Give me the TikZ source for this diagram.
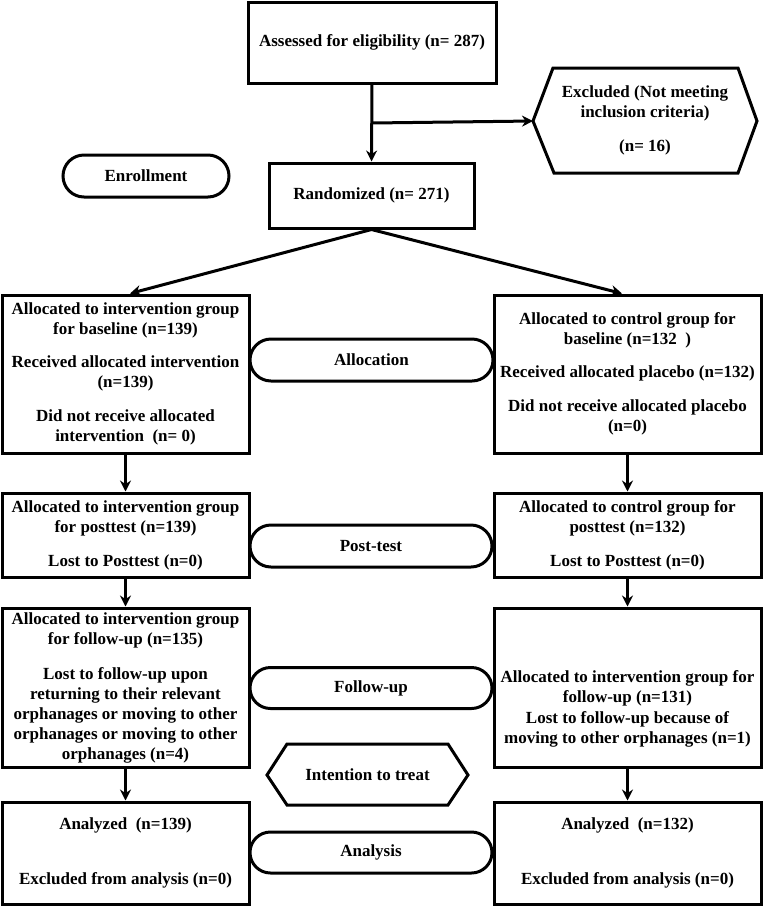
\documentclass[tikz,border=0pt]{standalone}
\usepackage{fontspec}
\setmainfont{Liberation Serif}
\usetikzlibrary{arrows.meta,shapes.misc,calc}
\begin{document}
\begin{tikzpicture}[x=1pt,y=-1pt,
  every node/.style={font=\fontsize{17}{20}\selectfont\bfseries, align=center, inner sep=0pt},
  box/.style={draw, line width=3pt, rectangle},
  stad/.style={draw, line width=3pt, rounded rectangle},
  hexa/.style={draw, line width=3pt, line join=miter},
  arr/.style={line width=3pt, -{Stealth[length=11pt,width=11pt]}},
  plain/.style={line width=3pt}]
\fill[white] (0,0) rectangle (763,906);
\useasboundingbox (0,0) rectangle (763,906);

% enrollment
\node[box, minimum width=248pt, minimum height=81pt] (ass) at (372,42.5) {Assessed for eligibility (n= 287)};
\node[box, minimum width=205pt, minimum height=65pt] (rand) at (371.5,195.5) {Randomized (n= 271)};
\node[stad, minimum width=166pt, minimum height=42pt] (enr) at (146,176) {Enrollment};
\draw[hexa] (553,68) -- (738,68) -- (757,121) -- (738,173) -- (554,173) -- (533,121) -- cycle;
\node (exc) at (645,120.5) {Excluded (Not meeting\\inclusion criteria)\\[14pt](n= 16)};
\coordinate (excW) at (533,121);
\coordinate (split) at ($(ass.south)!0.5!(rand.north)$);

% allocation
\node[box, minimum width=247pt, minimum height=158pt] (l1) at (125.5,374)
  {Allocated to intervention group\\for baseline (n=139)\\[13pt]Received allocated intervention\\(n=139)\\[14pt]Did not receive allocated\\intervention\ \ (n= 0)};
\node[box, minimum width=267pt, minimum height=158pt] (r1) at (627.5,374)
  {Allocated to control group for\\baseline (n=132\ \ )\\[13pt]Received allocated placebo (n=132)\\[14pt]Did not receive allocated placebo\\(n=0)};
\node[stad, minimum width=243pt, minimum height=42pt] (alloc) at (371.5,360) {Allocation};

% post-test
\node[box, minimum width=247pt, minimum height=84pt] (l2) at (125.5,535)
  {Allocated to intervention group\\for posttest (n=139)\\[14pt]Lost to Posttest (n=0)};
\node[box, minimum width=267pt, minimum height=84pt] (r2) at (627.5,535)
  {Allocated to control group for\\posttest (n=132)\\[14pt]Lost to Posttest (n=0)};
\node[stad, minimum width=242pt, minimum height=42pt] (post) at (371,546) {Post-test};

% follow-up
\node[box, minimum width=247pt, minimum height=159pt] (l3) at (125.5,687.5)
  {Allocated to intervention group\\for follow-up (n=135)\\[15pt]Lost to follow-up upon\\returning to their relevant\\orphanages or moving to other\\orphanages or moving to other\\orphanages (n=4)};
\node[box, minimum width=267pt, minimum height=159pt] (r3) at (627.5,687.5) {};
\node (r3t) at (627.5,708.5)
  {Allocated to intervention group for\\follow-up (n=131)\\[1pt]Lost to follow-up because of\\moving to other orphanages (n=1)};
\node[stad, minimum width=242pt, minimum height=41pt] (follow) at (371,688) {Follow-up};

\draw[hexa] (287,744) -- (448,744) -- (468,775) -- (448,805) -- (287,805) -- (267,775) -- cycle;
\node (itt) at (367.5,774.5) {Intention to treat};

% analysis
\node[box, minimum width=247pt, minimum height=102pt] (l4) at (125.5,853)
  {Analyzed\ \ (n=139)\\[35pt]Excluded from analysis (n=0)};
\node[box, minimum width=267pt, minimum height=102pt] (r4) at (627.5,853)
  {Analyzed\ \ (n=132)\\[35pt]Excluded from analysis (n=0)};
\node[stad, minimum width=242pt, minimum height=41pt] (anal) at (371,852.5) {Analysis};

% connectors
\draw[arr] (ass.south) -- (rand.north);
\draw[arr] (split) -- (excW);
\draw[arr] (rand.south) -- ([xshift=4.5pt]l1.north);
\draw[arr] (rand.south) -- ([xshift=-5.5pt]r1.north);
\draw[arr] (l1.south) -- (l2.north);
\draw[arr] (r1.south) -- (r2.north);
\draw[arr] (l2.south) -- (l3.north);
\draw[arr] (r2.south) -- (r3.north);
\draw[arr] (l3.south) -- (l4.north);
\draw[arr] (r3.south) -- (r4.north);
\end{tikzpicture}
\end{document}
